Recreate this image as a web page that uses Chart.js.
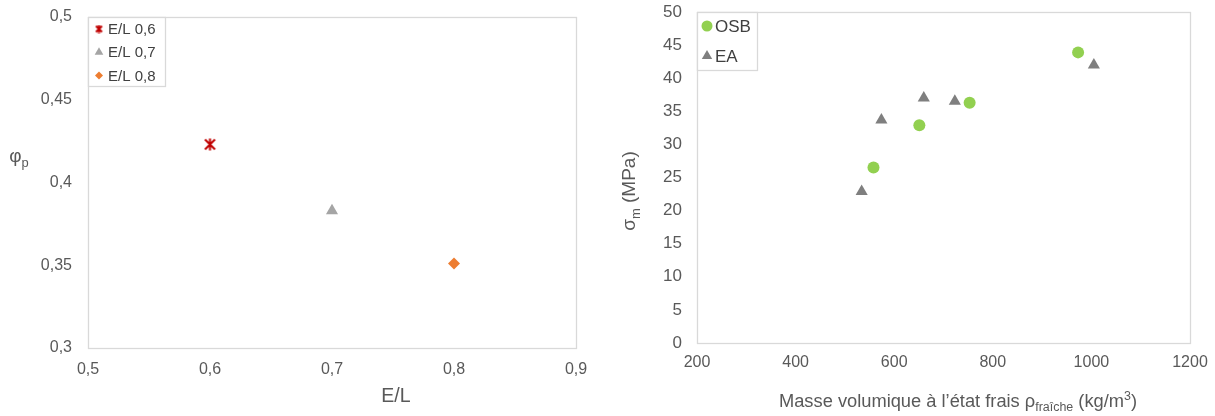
<!DOCTYPE html>
<html>
<head>
<meta charset="utf-8">
<script src="https://cdn.jsdelivr.net/npm/chart.js@4/dist/chart.umd.min.js"></script>
<style>
  body { margin: 0; background: #fff; }
  .box { position: absolute; top: 0; height: 416px; }
  #left { left: 0; width: 600px; }
  #right { left: 600px; width: 615px; }
</style>
</head>
<body>
<div class="box" id="left"><canvas id="chartL" width="600" height="416"></canvas></div>
<div class="box" id="right"><canvas id="chartR" width="615" height="416"></canvas></div>
<script>
// données graphique gauche (phi_p selon E/L)
const elLabels = ['E/L 0,6', 'E/L 0,7', 'E/L 0,8'];
const elX      = [0.6, 0.7, 0.8];
const phiP     = [0.423, 0.383, 0.351];

// données graphique droit (sigma_m selon masse volumique)
const osbRho   = [558, 651, 753, 973];
const osbSigma = [26.5, 32.9, 36.3, 43.9];
const eaRho    = [534, 574, 660, 723, 1005];
const eaSigma  = [22.9, 33.7, 37.0, 36.5, 42.0];

const FONT = 'Liberation Sans, Arial, DejaVu Sans, sans-serif';
const TXT = '#595959';

// marqueur étoile façon Excel (x + trait vertical)
function starMarker(size, color) {
  const c = document.createElement('canvas');
  c.width = size; c.height = size;
  const g = c.getContext('2d');
  g.strokeStyle = color; g.lineWidth = 2;
  const p = 1.5, m = size / 2;
  g.beginPath();
  g.moveTo(p, p); g.lineTo(size - p, size - p);
  g.moveTo(size - p, p); g.lineTo(p, size - p);
  g.moveTo(m, 0.5); g.lineTo(m, size - 0.5);
  g.stroke();
  return c;
}
const star = starMarker(13, '#C00000');
const starSmall = starMarker(9, '#C00000');

const fmt = v => String(Number(v.toFixed(2))).replace('.', ',');

// cadre de la zone de tracé
const frame = {
  id: 'frame',
  beforeDatasetsDraw(chart) {
    const a = chart.chartArea, ctx = chart.ctx;
    ctx.save();
    ctx.strokeStyle = '#d9d9d9'; ctx.lineWidth = 1.3;
    ctx.strokeRect(Math.round(a.left) + 0.5, Math.round(a.top) + 0.5,
                   Math.round(a.right - a.left), Math.round(a.bottom - a.top));
    ctx.restore();
  }
};

// texte avec indices / exposants
function subSize(p, size) { return p[1] ? size * 0.68 : size; }
function drawRich(ctx, parts, x, y, size, rot) {
  ctx.save();
  ctx.translate(x, y);
  if (rot) ctx.rotate(rot);
  let w = 0;
  parts.forEach(p => {
    ctx.font = subSize(p, size) + 'px ' + FONT;
    w += ctx.measureText(p[0]).width;
  });
  let cx = -w / 2;
  ctx.fillStyle = TXT;
  ctx.textBaseline = 'alphabetic';
  parts.forEach(p => {
    ctx.font = subSize(p, size) + 'px ' + FONT;
    let dy = size * 0.36;
    if (p[1] === 'sub') dy += size * 0.25;
    if (p[1] === 'sup') dy -= size * 0.38;
    ctx.fillText(p[0], cx, dy);
    cx += ctx.measureText(p[0]).width;
  });
  ctx.restore();
}
const titles = {
  id: 'titles',
  afterDraw(chart, args, opts) {
    (opts.items || []).forEach(t => drawRich(chart.ctx, t.parts, t.x, t.y, t.size, t.rot));
  }
};

// légende encadrée dans la zone de tracé
const boxLegend = {
  id: 'boxLegend',
  afterDraw(chart, args, o) {
    const ctx = chart.ctx, a = chart.chartArea;
    const x0 = a.left + o.dx, y0 = a.top;
    ctx.save();
    ctx.strokeStyle = '#d9d9d9'; ctx.lineWidth = 1.3;
    ctx.fillStyle = '#fff';
    ctx.fillRect(x0, y0, o.w, o.h);
    ctx.strokeRect(x0 + 0.5, y0 + 0.5, o.w, o.h);
    chart.data.datasets.forEach((ds, i) => {
      const y = y0 + o.first + i * o.rowH;
      const m = o.markers[i];
      ctx.fillStyle = m.color;
      Chart.helpers.drawPoint(ctx, {
        pointStyle: m.style, radius: m.r, rotation: 0, borderWidth: 0
      }, x0 + o.mx, y);
      ctx.fillStyle = '#404040';
      ctx.font = o.size + 'px ' + FONT;
      ctx.textBaseline = 'middle';
      ctx.fillText(ds.label, x0 + o.tx, y + 1);
    });
    ctx.restore();
  }
};

function axis(min, max, step, pad, size, cb) {
  return {
    type: 'linear', min: min, max: max,
    grid: { display: false, drawTicks: false },
    border: { display: false },
    ticks: { stepSize: step, padding: pad, color: TXT, font: { family: FONT, size: size }, callback: cb }
  };
}
// taille fixe des axes, sans marge ajoutée par les étiquettes
function fixAxis(sc, h, w) {
  sc.x.afterFit = s => { s.height = h; s.paddingLeft = 0; s.paddingRight = 0; };
  sc.y.afterFit = s => { s.width = w; s.paddingTop = 0; s.paddingBottom = 0; };
}

// graphique gauche
const scL = {
  x: axis(0.5, 0.9, 0.1, 12, 16, v => fmt(v)),
  y: axis(0.3, 0.5, 0.05, 16, 16, v => fmt(v))
};
fixAxis(scL, 68, 88);

new Chart(document.getElementById('chartL'), {
  type: 'scatter',
  data: {
    datasets: [
      { label: elLabels[0], data: [{ x: elX[0], y: phiP[0] }], pointStyle: star, pointRadius: 7 },
      { label: elLabels[1], data: [{ x: elX[1], y: phiP[1] }], pointStyle: 'triangle', pointRadius: 7,
        backgroundColor: '#A5A5A5', borderColor: '#A5A5A5', borderWidth: 0 },
      { label: elLabels[2], data: [{ x: elX[2], y: phiP[2] }], pointStyle: 'rectRot', pointRadius: 6,
        backgroundColor: '#ED7D31', borderColor: '#ED7D31', borderWidth: 0 }
    ]
  },
  options: {
    responsive: false, animation: false,
    layout: { padding: { top: 17, right: 24, left: 0, bottom: 0 } },
    scales: scL,
    plugins: {
      legend: { display: false }, tooltip: { enabled: false },
      boxLegend: {
        dx: 0, w: 77, h: 69, first: 12, rowH: 23.3, mx: 11, tx: 20, size: 15,
        markers: [
          { style: starSmall, r: 4, color: '#C00000' },
          { style: 'triangle', r: 5, color: '#A5A5A5' },
          { style: 'rectRot', r: 4, color: '#ED7D31' }
        ]
      },
      titles: {
        items: [
          { parts: [['φ'], ['p', 'sub']], x: 19, y: 155, size: 19 },
          { parts: [['E/L']], x: 396, y: 395, size: 19.5 }
        ]
      }
    }
  },
  plugins: [frame, boxLegend, titles]
});

// graphique droit
const scR = {
  x: axis(200, 1200, 200, 10, 16, v => v),
  y: axis(0, 50, 5, 15, 17, v => v)
};
fixAxis(scR, 73, 97);

new Chart(document.getElementById('chartR'), {
  type: 'scatter',
  data: {
    datasets: [
      { label: 'OSB', data: osbRho.map((r, i) => ({ x: r, y: osbSigma[i] })),
        pointStyle: 'circle', pointRadius: 6, backgroundColor: '#92D050', borderColor: '#92D050', borderWidth: 0 },
      { label: 'EA', data: eaRho.map((r, i) => ({ x: r, y: eaSigma[i] })),
        pointStyle: 'triangle', pointRadius: 7, backgroundColor: '#7F7F7F', borderColor: '#7F7F7F', borderWidth: 0 }
    ]
  },
  options: {
    responsive: false, animation: false,
    layout: { padding: { top: 12, right: 25, left: 0, bottom: 0 } },
    scales: scR,
    plugins: {
      legend: { display: false }, tooltip: { enabled: false },
      boxLegend: {
        dx: 0, w: 60, h: 58, first: 14, rowH: 30, mx: 10, tx: 18, size: 17,
        markers: [
          { style: 'circle', r: 5.5, color: '#92D050' },
          { style: 'triangle', r: 6, color: '#7F7F7F' }
        ]
      },
      titles: {
        items: [
          { parts: [['σ'], ['m', 'sub'], [' (MPa)']], x: 28, y: 191, size: 19, rot: -Math.PI / 2 },
          { parts: [['Masse volumique à l’état frais ρ'], ['fraîche', 'sub'], [' (kg/m'], ['3', 'sup'], [')']],
            x: 358, y: 400, size: 18.3 }
        ]
      }
    }
  },
  plugins: [frame, boxLegend, titles]
});
</script>
</body>
</html>
